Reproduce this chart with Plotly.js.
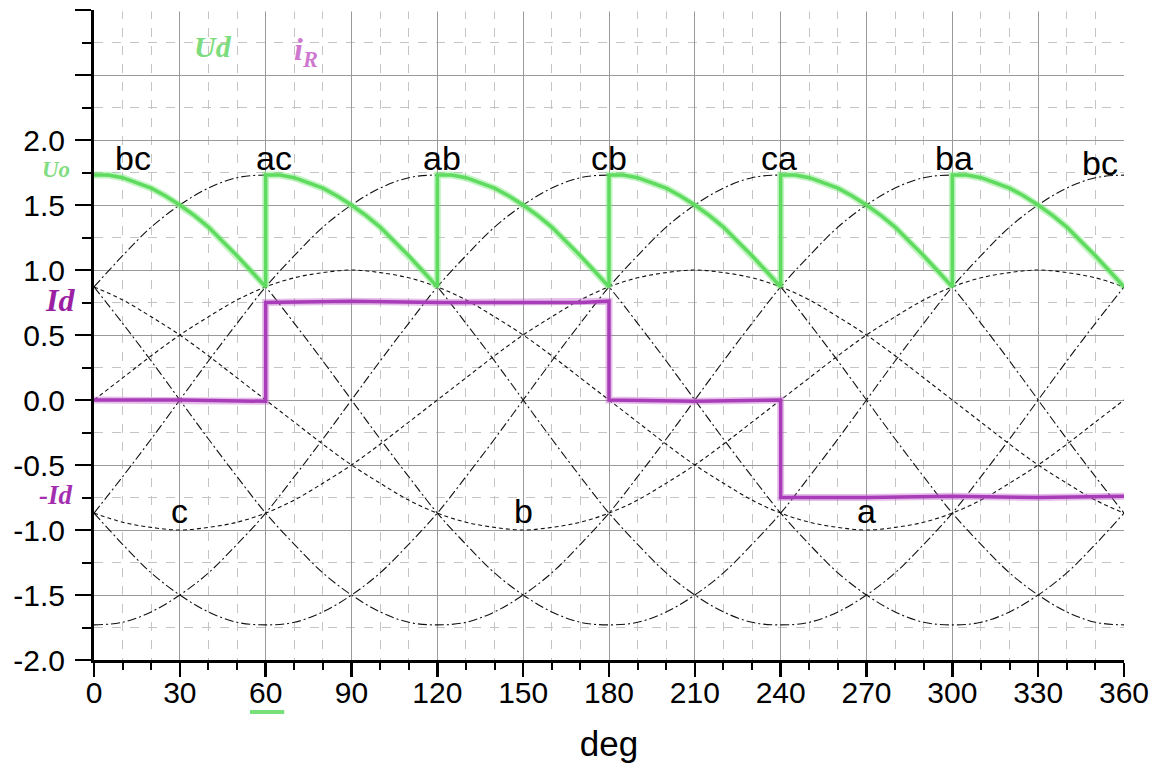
<!DOCTYPE html>
<html>
<head>
<meta charset="utf-8">
<script src="https://cdn.plot.ly/plotly-3.0.1.min.js"></script>
<style>
  html, body { margin: 0; padding: 0; background: #ffffff; }
  #chart { width: 1153px; height: 766px; }
</style>
</head>
<body>
<div id="chart"></div>
<script>
// ---- data ----
const deg = [0,10,20,30,40,50,60,70,80,90,100,110,120,130,140,150,160,170,180,190,200,210,220,230,240,250,260,270,280,290,300,310,320,330,340,350,360];

// phase voltages (dashed)
const phaseA = [0,0.17,0.34,0.5,0.64,0.77,0.87,0.94,0.98,1,0.98,0.94,0.87,0.77,0.64,0.5,0.34,0.17,0,-0.17,-0.34,-0.5,-0.64,-0.77,-0.87,-0.94,-0.98,-1,-0.98,-0.94,-0.87,-0.77,-0.64,-0.5,-0.34,-0.17,0];
const phaseB = [0.87,0.77,0.64,0.5,0.34,0.17,0,-0.17,-0.34,-0.5,-0.64,-0.77,-0.87,-0.94,-0.98,-1,-0.98,-0.94,-0.87,-0.77,-0.64,-0.5,-0.34,-0.17,0,0.17,0.34,0.5,0.64,0.77,0.87,0.94,0.98,1,0.98,0.94,0.87];
const phaseC = [-0.87,-0.94,-0.98,-1,-0.98,-0.94,-0.87,-0.77,-0.64,-0.5,-0.34,-0.17,0,0.17,0.34,0.5,0.64,0.77,0.87,0.94,0.98,1,0.98,0.94,0.87,0.77,0.64,0.5,0.34,0.17,0,-0.17,-0.34,-0.5,-0.64,-0.77,-0.87];

// line voltages (dash-dot)
const lineBC = [1.73,1.71,1.63,1.5,1.33,1.11,0.87,0.59,0.3,0,-0.3,-0.59,-0.87,-1.11,-1.33,-1.5,-1.63,-1.71,-1.73,-1.71,-1.63,-1.5,-1.33,-1.11,-0.87,-0.59,-0.3,0,0.3,0.59,0.87,1.11,1.33,1.5,1.63,1.71,1.73];
const lineAC = [0.87,1.11,1.33,1.5,1.63,1.71,1.73,1.71,1.63,1.5,1.33,1.11,0.87,0.59,0.3,0,-0.3,-0.59,-0.87,-1.11,-1.33,-1.5,-1.63,-1.71,-1.73,-1.71,-1.63,-1.5,-1.33,-1.11,-0.87,-0.59,-0.3,0,0.3,0.59,0.87];
const lineAB = [-0.87,-0.59,-0.3,0,0.3,0.59,0.87,1.11,1.33,1.5,1.63,1.71,1.73,1.71,1.63,1.5,1.33,1.11,0.87,0.59,0.3,0,-0.3,-0.59,-0.87,-1.11,-1.33,-1.5,-1.63,-1.71,-1.73,-1.71,-1.63,-1.5,-1.33,-1.11,-0.87];
const lineCB = [-1.73,-1.71,-1.63,-1.5,-1.33,-1.11,-0.87,-0.59,-0.3,0,0.3,0.59,0.87,1.11,1.33,1.5,1.63,1.71,1.73,1.71,1.63,1.5,1.33,1.11,0.87,0.59,0.3,0,-0.3,-0.59,-0.87,-1.11,-1.33,-1.5,-1.63,-1.71,-1.73];
const lineCA = [-0.87,-1.11,-1.33,-1.5,-1.63,-1.71,-1.73,-1.71,-1.63,-1.5,-1.33,-1.11,-0.87,-0.59,-0.3,0,0.3,0.59,0.87,1.11,1.33,1.5,1.63,1.71,1.73,1.71,1.63,1.5,1.33,1.11,0.87,0.59,0.3,0,-0.3,-0.59,-0.87];
const lineBA = [0.87,0.59,0.3,0,-0.3,-0.59,-0.87,-1.11,-1.33,-1.5,-1.63,-1.71,-1.73,-1.71,-1.63,-1.5,-1.33,-1.11,-0.87,-0.59,-0.3,0,0.3,0.59,0.87,1.11,1.33,1.5,1.63,1.71,1.73,1.71,1.63,1.5,1.33,1.11,0.87];

// rectified output voltage Ud (green)
const udDeg = [0,5,10,15,20,25,30,35,40,45,50,55,60,
               60,65,70,75,80,85,90,95,100,105,110,115,120,
               120,125,130,135,140,145,150,155,160,165,170,175,180,
               180,185,190,195,200,205,210,215,220,225,230,235,240,
               240,245,250,255,260,265,270,275,280,285,290,295,300,
               300,305,310,315,320,325,330,335,340,345,350,355,360];
const udVal = [1.73,1.73,1.71,1.67,1.63,1.57,1.5,1.42,1.33,1.22,1.11,0.99,0.87,
               1.73,1.73,1.71,1.67,1.63,1.57,1.5,1.42,1.33,1.22,1.11,0.99,0.87,
               1.73,1.73,1.71,1.67,1.63,1.57,1.5,1.42,1.33,1.22,1.11,0.99,0.87,
               1.73,1.73,1.71,1.67,1.63,1.57,1.5,1.42,1.33,1.22,1.11,0.99,0.87,
               1.73,1.73,1.71,1.67,1.63,1.57,1.5,1.42,1.33,1.22,1.11,0.99,0.87,
               1.73,1.73,1.71,1.67,1.63,1.57,1.5,1.42,1.33,1.22,1.11,0.99,0.87];

// current iR (magenta)
const irDeg = [0,30,60,60,90,120,170,180,180,210,240,240,270,300,330,360];
const irVal = [0,0,-0.01,0.75,0.76,0.75,0.75,0.76,0,-0.01,0,-0.75,-0.75,-0.74,-0.75,-0.74];

// labels
const lineLabels = ['bc','ac','ab','cb','ca','ba','bc'];
const lineLabelDeg = [13.5,63,121.5,180,239.5,300.5,351.5];
const lineLabelY = [1.86,1.86,1.86,1.86,1.86,1.86,1.82];
const phaseLabels = ['c','b','a'];
const phaseLabelDeg = [30,150,270];
const phaseLabelY = [-0.85,-0.85,-0.85];

const xTickVals = [0,30,60,90,120,150,180,210,240,270,300,330,360];
const xTickText = ['0','30','60','90','120','150','180','210','240','270','300','330','360'];
const yTickVals = [-2,-1.5,-1,-0.5,0,0.5,1,1.5,2,2.5,3];
const yTickText = ['-2.0','-1.5','-1.0','-0.5','0.0','0.5','1.0','1.5','2.0',' ',' '];

// ---- traces ----
const thin = '#111111';
const phaseDash = '4px,3px';
const lineDash = '9px,3px,2px,3px';
const traces = [];
function addCurve(y, dash, name) {
  traces.push({x: deg, y: y, mode: 'lines', name: name, hoverinfo: 'skip',
    line: {color: thin, width: 1.1, dash: dash, shape: 'spline', smoothing: 1}});
}
addCurve(phaseA, phaseDash, 'a');
addCurve(phaseB, phaseDash, 'b');
addCurve(phaseC, phaseDash, 'c');
addCurve(lineBC, lineDash, 'bc');
addCurve(lineAC, lineDash, 'ac');
addCurve(lineAB, lineDash, 'ab');
addCurve(lineCB, lineDash, 'cb');
addCurve(lineCA, lineDash, 'ca');
addCurve(lineBA, lineDash, 'ba');

// Ud: halo + core
traces.push({x: udDeg, y: udVal, mode: 'lines', hoverinfo: 'skip',
  line: {color: 'rgba(120,230,120,0.45)', width: 7}});
traces.push({x: udDeg, y: udVal, mode: 'lines', name: 'Ud', hoverinfo: 'skip',
  line: {color: '#5fdc5f', width: 3.5}});
// iR: halo + core
traces.push({x: irDeg, y: irVal, mode: 'lines', hoverinfo: 'skip',
  line: {color: 'rgba(190,90,200,0.4)', width: 7}});
traces.push({x: irDeg, y: irVal, mode: 'lines', name: 'iR', hoverinfo: 'skip',
  line: {color: '#a93cb8', width: 3.5}});

// ---- annotations ----
const annotations = [];
for (let i = 0; i < lineLabels.length; i++) {
  annotations.push({x: lineLabelDeg[i], y: lineLabelY[i], xref: 'x', yref: 'y',
    text: lineLabels[i], showarrow: false,
    font: {family: 'Liberation Sans, Arial, sans-serif', size: 34, color: '#000'}});
}
for (let i = 0; i < phaseLabels.length; i++) {
  annotations.push({x: phaseLabelDeg[i], y: phaseLabelY[i], xref: 'x', yref: 'y',
    text: phaseLabels[i], showarrow: false,
    font: {family: 'Liberation Sans, Arial, sans-serif', size: 34, color: '#000'}});
}
const serif = 'Liberation Serif, DejaVu Serif, serif';
annotations.push({x: 41.5, y: 2.72, xref: 'x', yref: 'y', text: '<i><b>Ud</b></i>', showarrow: false,
  font: {family: serif, size: 30, color: '#7ddc7d'}});
annotations.push({x: 74, y: 2.68, xref: 'x', yref: 'y', text: '<i><b>i<sub>R</sub></b></i>', showarrow: false,
  font: {family: serif, size: 32, color: '#cf78cf'}});
annotations.push({x: -0.037, y: 1.77, xref: 'paper', yref: 'y', xanchor: 'center', text: '<i><b>Uo</b></i>', showarrow: false,
  font: {family: serif, size: 23, color: '#82dc82'}});
annotations.push({x: -0.033, y: 0.77, xref: 'paper', yref: 'y', xanchor: 'center', text: '<i><b>Id</b></i>', showarrow: false,
  font: {family: serif, size: 32, color: '#9a1fa2'}});
annotations.push({x: -0.037, y: -0.73, xref: 'paper', yref: 'y', xanchor: 'center', text: '<i><b>-Id</b></i>', showarrow: false,
  font: {family: serif, size: 27, color: '#a32fb0'}});

const layout = {
  width: 1153, height: 766,
  margin: {l: 94, r: 29, t: 10, b: 106},
  paper_bgcolor: '#ffffff', plot_bgcolor: '#ffffff',
  showlegend: false,
  font: {family: 'Liberation Sans, Arial, sans-serif', color: '#000'},
  xaxis: {
    range: [0, 360], tickmode: 'array', tickvals: xTickVals, ticktext: xTickText,
    showline: true, linewidth: 3, linecolor: '#000', mirror: false,
    ticks: 'outside', ticklen: 14, tickwidth: 2.5, tickcolor: '#000',
    tickfont: {size: 30, color: '#000'}, ticklabelstandoff: -10,
    showgrid: true, gridcolor: '#9a9a9a', gridwidth: 1, zeroline: false,
    minor: {tickmode: 'linear', tick0: 0, dtick: 10, ticks: 'outside', ticklen: 7, tickwidth: 2, tickcolor: '#000',
            showgrid: true, gridcolor: '#c4c4c4', griddash: 'dash', gridwidth: 1},
    title: {text: 'deg', font: {size: 35, color: '#000'}, standoff: 24},
    fixedrange: true
  },
  yaxis: {
    range: [-2, 3], tickmode: 'array', tickvals: yTickVals, ticktext: yTickText,
    showline: true, linewidth: 3, linecolor: '#000',
    ticks: 'outside', ticklen: 16, tickwidth: 2.5, tickcolor: '#000',
    tickfont: {size: 30, color: '#000'}, ticklabelstandoff: 4,
    showgrid: true, gridcolor: '#9a9a9a', gridwidth: 1, zeroline: false,
    minor: {tickmode: 'linear', tick0: 0, dtick: 0.25, ticks: 'outside', ticklen: 9, tickwidth: 2, tickcolor: '#000',
            showgrid: true, gridcolor: '#c4c4c4', griddash: 'dash', gridwidth: 1},
    fixedrange: true
  },
  annotations: annotations,
  shapes: [
    {type: 'line', xref: 'x', yref: 'paper', x0: 54.5, x1: 66.5, y0: -0.08, y1: -0.08,
     line: {color: '#78e078', width: 4}},
    // mask grid lines at the open right and top edges
    {type: 'line', layer: 'between', xref: 'x', yref: 'paper', x0: 360, x1: 360, y0: 0.002, y1: 1,
     line: {color: '#ffffff', width: 3}},
    {type: 'line', layer: 'between', xref: 'x', yref: 'y', x0: 0.8, x1: 360, y0: 3, y1: 3,
     line: {color: '#ffffff', width: 3}}
  ]
};

Plotly.newPlot('chart', traces, layout, {displayModeBar: false, staticPlot: true});
</script>
</body>
</html>
